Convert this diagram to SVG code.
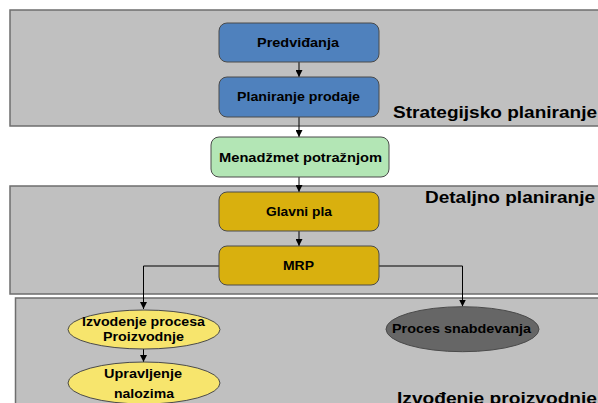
<svg xmlns="http://www.w3.org/2000/svg" width="598" height="403" viewBox="0 0 598 403">
<defs>
<style>
.panel{fill:#c0c0c0;stroke:#6e6e6e;stroke-width:1.5}
.box{stroke:#4a4a4a;stroke-width:1}
.blue{fill:#4f81bd}
.green{fill:#b3e6b5}
.gold{fill:#d9b00e}
.yellow{fill:#f7e56d}
.dark{fill:#666666}
.t{font-family:"Liberation Sans",Arial,sans-serif;font-weight:bold;fill:#000;font-size:12.5px}
.big{font-family:"Liberation Sans",Arial,sans-serif;font-weight:bold;fill:#000;font-size:16px}
.c{fill:none;stroke:#000;stroke-width:1}
</style>
<marker id="ah" viewBox="0 0 8 8" refX="8" refY="4" markerWidth="7" markerHeight="7" markerUnits="userSpaceOnUse" orient="auto">
<path d="M0,0 L8,4 L0,8 Z" fill="#000"/>
</marker>
</defs>
<g id="panel-strategic">
<rect class="panel" x="10" y="10" width="600" height="116"/>
<text class="big" x="393" y="118" textLength="204" lengthAdjust="spacingAndGlyphs">Strategijsko planiranje</text>
</g>
<g id="panel-detail">
<rect class="panel" x="10" y="186" width="600" height="108"/>
<text class="big" x="425" y="203" textLength="170" lengthAdjust="spacingAndGlyphs">Detaljno planiranje</text>
</g>
<g id="panel-exec">
<rect class="panel" x="15.5" y="298" width="600" height="120"/>
<text class="big" x="397" y="404" textLength="200" lengthAdjust="spacingAndGlyphs">Izvođenje proizvodnje</text>
</g>
<g id="connectors">
<line class="c" x1="299" y1="62" x2="299" y2="77" marker-end="url(#ah)"/>
<line class="c" x1="299" y1="117" x2="299" y2="137" marker-end="url(#ah)"/>
<line class="c" x1="299" y1="177" x2="299" y2="192" marker-end="url(#ah)"/>
<line class="c" x1="299" y1="231" x2="299" y2="246" marker-end="url(#ah)"/>
<polyline class="c" points="219,266 143.5,266 143.5,309" marker-end="url(#ah)"/>
<polyline class="c" points="379,266 462.5,266 462.5,306.5" marker-end="url(#ah)"/>
<line class="c" x1="143.5" y1="349" x2="143.5" y2="362" marker-end="url(#ah)"/>
</g>
<g id="node-predvidjanja">
<rect class="box blue" x="219" y="23" width="160" height="39" rx="8"/>
<text class="t" x="298" y="46.5" text-anchor="middle" textLength="82" lengthAdjust="spacingAndGlyphs">Predviđanja</text>
</g>
<g id="node-planiranje-prodaje">
<rect class="box blue" x="219" y="77" width="160" height="40" rx="8"/>
<text class="t" x="298.5" y="101" text-anchor="middle" textLength="123" lengthAdjust="spacingAndGlyphs">Planiranje prodaje</text>
</g>
<g id="node-menadzmet">
<rect class="box green" x="211" y="137" width="178" height="40" rx="8"/>
<text class="t" x="300.5" y="162" text-anchor="middle" textLength="163" lengthAdjust="spacingAndGlyphs">Menadžmet  potražnjom</text>
</g>
<g id="node-glavni-plan">
<rect class="box gold" x="219" y="192" width="160" height="39" rx="8"/>
<text class="t" x="299" y="216" text-anchor="middle" textLength="66" lengthAdjust="spacingAndGlyphs">Glavni pla</text>
</g>
<g id="node-mrp">
<rect class="box gold" x="219" y="246" width="160" height="39" rx="8"/>
<text class="t" x="298.5" y="270" text-anchor="middle" textLength="31" lengthAdjust="spacingAndGlyphs">MRP</text>
</g>
<g id="node-izvodjenje-procesa">
<ellipse class="box yellow" cx="144" cy="329.5" rx="76" ry="19.5"/>
<text class="t" x="143.5" y="326" text-anchor="middle" textLength="123" lengthAdjust="spacingAndGlyphs">Izvodenje procesa</text>
<text class="t" x="143.5" y="340.5" text-anchor="middle" textLength="81" lengthAdjust="spacingAndGlyphs">Proizvodnje</text>
</g>
<g id="node-upravljenje">
<ellipse class="box yellow" cx="144" cy="383" rx="76" ry="21"/>
<text class="t" x="143" y="378" text-anchor="middle" textLength="78" lengthAdjust="spacingAndGlyphs">Upravljenje</text>
<text class="t" x="144" y="398" text-anchor="middle" textLength="60" lengthAdjust="spacingAndGlyphs">nalozima</text>
</g>
<g id="node-proces-snabdevanja">
<ellipse class="box dark" cx="462.5" cy="329.2" rx="76.5" ry="22.5" stroke="#333"/>
<text class="t" x="461.5" y="333" text-anchor="middle" textLength="139" lengthAdjust="spacingAndGlyphs">Proces snabdevanja</text>
</g>
</svg>
